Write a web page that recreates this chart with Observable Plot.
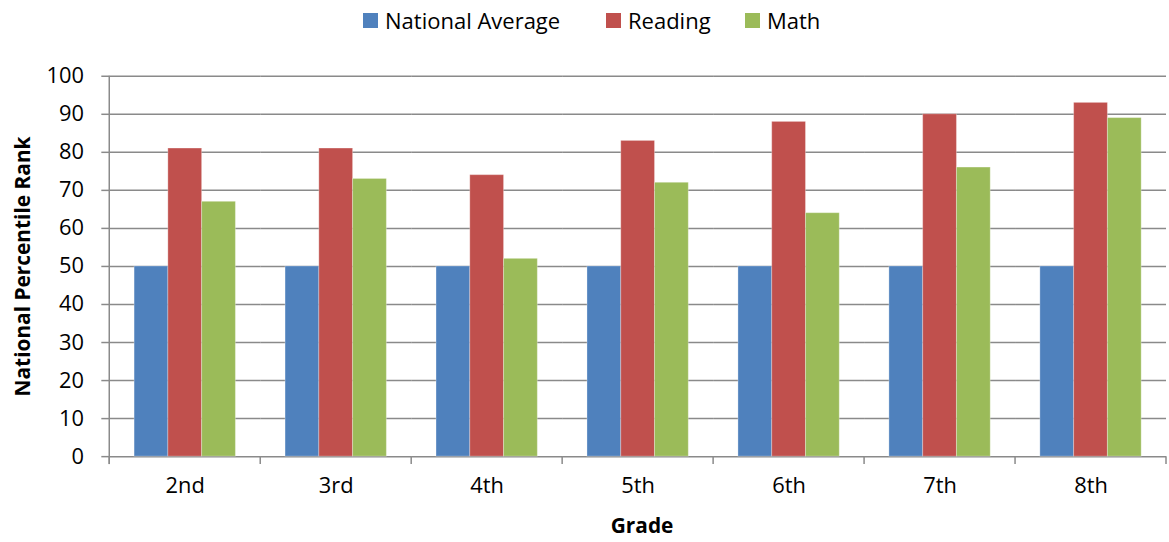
<!DOCTYPE html>
<html>
<head>
<meta charset="utf-8">
<script src="https://cdn.jsdelivr.net/npm/d3@7"></script>
<script src="https://cdn.jsdelivr.net/npm/@observablehq/plot@0.6"></script>
<style>
html, body { margin: 0; padding: 0; background: #fff; overflow: hidden; width: 1169px; height: 542px; }
#legend { height: 40px; position: relative; font-family: "Open Sans", sans-serif; font-size: 22px; color: #000; }
#legend .item { position: absolute; top: 5px; height: 30px; display: flex; align-items: center; white-space: nowrap; }
#legend .sw { width: 15px; height: 15px; margin-right: 7px; }
#chart svg { display: block; }
</style>
</head>
<body>
<div id="legend"></div>
<div id="chart"></div>
<script>
const grades = ["2nd", "3rd", "4th", "5th", "6th", "7th", "8th"];
const series = ["National Average", "Reading", "Math"];
const nationalAverage = [50, 50, 50, 50, 50, 50, 50];
const reading = [81, 81, 74, 83, 88, 90, 93];
const math = [67, 73, 52, 72, 64, 76, 89];
const colors = ["#4F81BD", "#C0504D", "#9BBB59"];
const yTicks = [0, 10, 20, 30, 40, 50, 60, 70, 80, 90, 100];
const yTitle = "National Percentile Rank";
const xTitle = "Grade";

const values = [nationalAverage, reading, math];
const rows = grades.flatMap((g, i) => series.map((s, j) => ({grade: g, series: s, value: values[j][i]})));

// legend
const legendLeft = [363, 606, 745];
const legend = document.getElementById("legend");
series.forEach((s, j) => {
  const item = document.createElement("div");
  item.className = "item";
  item.style.left = legendLeft[j] + "px";
  const sw = document.createElement("span");
  sw.className = "sw";
  sw.style.background = colors[j];
  const t = document.createElement("span");
  t.textContent = s;
  item.appendChild(sw);
  item.appendChild(t);
  legend.appendChild(item);
});

const gridColor = "#8a8a8a";
const chart = Plot.plot({
  width: 1177,
  height: 502,
  marginTop: 36,
  marginBottom: 83,
  marginLeft: 108,
  marginRight: 1,
  style: {fontFamily: "'Open Sans', sans-serif", fontSize: "22px", color: "#000", background: "#fff"},
  fx: {domain: grades, padding: 0, label: null},
  x: {domain: series, paddingInner: 0, paddingOuter: 0.72, axis: null},
  y: {domain: [0, 100], label: null},
  color: {domain: series, range: colors},
  marks: [
    Plot.gridY(yTicks, {stroke: gridColor, strokeOpacity: 1, strokeWidth: 1.5}),
    Plot.barY(rows, {fx: "grade", x: "series", y: "value", fill: "series", stroke: "#fff", strokeOpacity: 0.3, strokeWidth: 1}),
    Plot.axisY(yTicks, {tickSize: 8, tickPadding: 18, stroke: gridColor, strokeWidth: 1.5, label: null}),
    Plot.axisFx({anchor: "bottom", tickSize: 0, tickPadding: 21, label: null}),
    Plot.text([yTitle], {fx: () => grades[0], frameAnchor: "left", textAnchor: "middle", lineAnchor: "middle", dx: -87, rotate: -90, fontWeight: "bold", fontSize: 21}),
    Plot.text([xTitle], {fx: () => grades[3], frameAnchor: "bottom", textAnchor: "middle", dx: 4, dy: 70, lineAnchor: "middle", fontWeight: "bold", fontSize: 21})
  ]
});
document.getElementById("chart").appendChild(chart);

// category boundary ticks and vertical axis line, placed with Plot's own scales
const fx = chart.scale("fx");
const y = chart.scale("y");
const y0 = y.apply(0), yTop = y.apply(100);
const edges = grades.map(d => fx.apply(d)).concat([fx.apply(grades[grades.length - 1]) + fx.bandwidth]);
const g = d3.select(chart).append("g").attr("stroke", gridColor).attr("stroke-width", 1.5);
edges.forEach(x => g.append("line").attr("x1", x).attr("x2", x).attr("y1", y0).attr("y2", y0 + 8));
g.append("line").attr("x1", edges[0]).attr("x2", edges[0]).attr("y1", yTop).attr("y2", y0 + 8);
</script>
</body>
</html>
